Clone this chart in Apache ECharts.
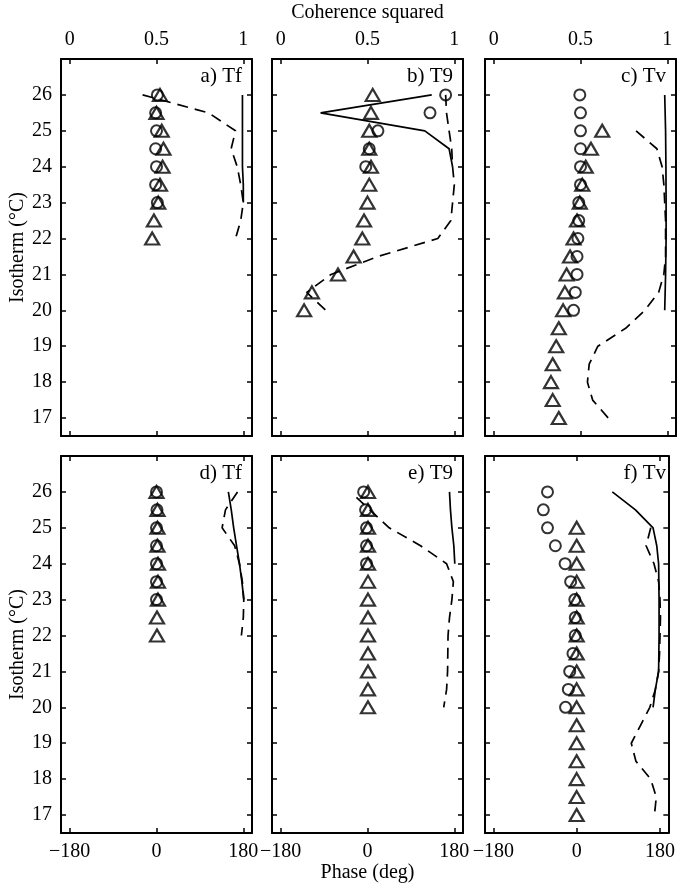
<!DOCTYPE html>
<html lang="en">
<head>
<meta charset="UTF-8">
<script src="https://cdn.jsdelivr.net/npm/echarts@6/dist/echarts.min.js"></script>
<title>Coherence squared and phase by isotherm</title>
<style>
html,body{margin:0;padding:0;background:#fff;}
#chart{width:678px;height:888px;}
</style>
</head>
<body>
<div id="chart"></div>
<script>
// ---- data (isotherm in deg C, coherence squared 0-1, phase in deg) ----
// a) Tf  coherence
var triLevA = [26, 25.5, 25, 24.5, 24, 23.5, 23, 22.5, 22];
var triA    = [0.52, 0.50, 0.53, 0.54, 0.535, 0.52, 0.51, 0.485, 0.475];
var cirLevA = [26, 25.5, 25, 24.5, 24, 23.5, 23];
var cirA    = [0.505, 0.495, 0.50, 0.495, 0.50, 0.495, 0.505];
var solLevA = [26, 25, 24, 23.5, 23];
var solA    = [0.995, 0.995, 0.995, 1.0, 1.0];
var dshLevA = [26, 25.5, 25, 24.5, 24, 23.5, 23, 22.5, 22];
var dshA    = [0.42, 0.80, 0.955, 0.93, 0.965, 0.985, 1.0, 0.985, 0.955];

// b) T9  coherence
var triLevB = [26, 25.5, 25, 24.5, 24, 23.5, 23, 22.5, 22, 21.5, 21, 20.5, 20];
var triB    = [0.53, 0.52, 0.51, 0.51, 0.52, 0.51, 0.50, 0.48, 0.47, 0.42, 0.33, 0.18, 0.135];
var cirLevB = [26, 25.5, 25, 24.5, 24];
var cirB    = [0.95, 0.86, 0.56, 0.51, 0.49];
var solLevB = [26, 25.5, 25, 24.5, 24];
var solB    = [0.87, 0.23, 0.83, 0.97, 0.99];
var dshLevB = [26, 25.5, 25, 24.5, 24, 23.5, 23, 22.5, 22, 21.5, 21, 20.5, 20];
var dshB    = [0.95, 0.955, 0.97, 0.985, 0.99, 1.0, 0.99, 0.98, 0.905, 0.56, 0.29, 0.15, 0.26];

// c) Tv  coherence
var triLevC = [25, 24.5, 24, 23.5, 23, 22.5, 22, 21.5, 21, 20.5, 20, 19.5, 19, 18.5, 18, 17.5, 17];
var triC    = [0.625, 0.56, 0.53, 0.51, 0.496, 0.48, 0.46, 0.44, 0.42, 0.41, 0.40, 0.375, 0.36, 0.34, 0.33, 0.34, 0.375];
var cirLevC = [26, 25.5, 25, 24.5, 24, 23.5, 23, 22.5, 22, 21.5, 21, 20.5, 20];
var cirC    = [0.496, 0.50, 0.50, 0.50, 0.50, 0.50, 0.49, 0.49, 0.485, 0.48, 0.48, 0.47, 0.46];
var solLevC = [26, 25, 24, 23, 22, 21, 20];
var solC    = [0.985, 0.99, 0.992, 0.993, 0.993, 0.99, 0.985];
var dshLevC = [25, 24.5, 24, 23.5, 23, 22.5, 22, 21.5, 21, 20.5, 20, 19.5, 19, 18.5, 18, 17.5, 17];
var dshC    = [0.82, 0.94, 0.97, 0.98, 0.985, 0.99, 0.99, 0.99, 0.98, 0.95, 0.87, 0.76, 0.60, 0.55, 0.54, 0.57, 0.66];

// d) Tf  phase
var triLevD = [26, 25.5, 25, 24.5, 24, 23.5, 23, 22.5, 22];
var triD    = [0, 2, 2, 2, 3, 3, 3, 1, 1];
var cirLevD = [26, 25.5, 25, 24.5, 24, 23.5, 23];
var cirD    = [0, 1, 0, 0, 0, 0, 0];
var solLevD = [26, 25.5, 25, 24.5, 24, 23.5, 23];
var solD    = [149, 155, 160, 166, 172, 177, 181];
var dshLevD = [26, 25.5, 25, 24.5, 24, 23.5, 23, 22.5, 22];
var dshD    = [168, 143, 136, 162, 172, 178, 181, 180, 176];

// e) T9  phase
var triLevE = [26, 25.5, 25, 24.5, 24, 23.5, 23, 22.5, 22, 21.5, 21, 20.5, 20];
var triE    = [1, 1, 1, 1, 1, 1, 1, 1, 1, 1, 1, 1, 1];
var cirLevE = [26, 25.5, 25, 24.5, 24];
var cirE    = [-8, -4, -2, -2, -2];
var solLevE = [26, 25.5, 25, 24.5, 24];
var solE    = [170, 172, 175, 179, 181];
var dshLevE = [25.85, 25, 24.5, 24, 23.5, 23, 22.5, 22, 21, 20.5, 20];
var dshE    = [-23, 45, 110, 164, 178, 175, 170, 167, 166, 164, 158];

// f) Tv  phase
var triLevF = [25, 24.5, 24, 23.5, 23, 22.5, 22, 21.5, 21, 20.5, 20, 19.5, 19, 18.5, 18, 17.5, 17];
var triF    = [0, 0, 0, 0, 0, 0, 0, 0, 0, 0, 0, 0, 0, 0, 0, 0, 0];
var cirLevF = [26, 25.5, 25, 24.5, 24, 23.5, 23, 22.5, 22, 21.5, 21, 20.5, 20];
var cirF    = [-63, -72, -63, -46, -25, -13, -4, -3, -3, -8, -15, -18, -24];
var solLevF = [26, 25.5, 25, 24.5, 24, 23, 22, 21, 20.5, 20];
var solF    = [77, 127, 165, 173, 177, 178, 178, 177, 170, 165];
var dshLevF = [25, 24.5, 24, 23.5, 23, 22.5, 22, 21.5, 21, 20.5, 20, 19.5, 19, 18.5, 18, 17.5, 17];
var dshF    = [160, 150, 167, 177, 180, 181, 180, 179, 177, 170, 158, 138, 118, 128, 160, 172, 168];

var isoTicks   = [17, 18, 19, 20, 21, 22, 23, 24, 25, 26];
var cohTicks   = [0, 0.5, 1];
var phaseTicks = [-180, 0, 180];

// ---- layout ----
var FONT = 'Liberation Serif';
var panels = [
  {label: 'a) Tf', tri: [triA, triLevA], cir: [cirA, cirLevA], sol: [solA, solLevA], dsh: [dshA, dshLevA], left: 61,  top: 59,  row: 0},
  {label: 'b) T9', tri: [triB, triLevB], cir: [cirB, cirLevB], sol: [solB, solLevB], dsh: [dshB, dshLevB], left: 272, top: 59,  row: 0},
  {label: 'c) Tv', tri: [triC, triLevC], cir: [cirC, cirLevC], sol: [solC, solLevC], dsh: [dshC, dshLevC], left: 485, top: 59,  row: 0},
  {label: 'd) Tf', tri: [triD, triLevD], cir: [cirD, cirLevD], sol: [solD, solLevD], dsh: [dshD, dshLevD], left: 61,  top: 456, row: 1},
  {label: 'e) T9', tri: [triE, triLevE], cir: [cirE, cirLevE], sol: [solE, solLevE], dsh: [dshE, dshLevE], left: 272, top: 456, row: 1},
  {label: 'f) Tv', tri: [triF, triLevF], cir: [cirF, cirLevF], sol: [solF, solLevF], dsh: [dshF, dshLevF], left: 485, top: 456, row: 1}
];
var PW = 191, PH = 377;

function pairs(xs, ys) {
  var out = [];
  for (var i = 0; i < xs.length; i++) out.push([xs[i], ys[i]]);
  return out;
}
function fmtPhase(v) { return v < 0 ? '\u2212' + (-v) : String(v); }

var lineStyleAxis = {color: '#000', width: 2};
var grids = [], xAxes = [], yAxes = [], series = [], graphics = [];

panels.forEach(function (p, i) {
  grids.push({left: p.left, top: p.top, width: PW, height: PH, containLabel: false});
  var isPhase = p.row === 1;
  var xmin = isPhase ? -198 : -0.05, xmax = isPhase ? 198 : 1.05;
  var xt = isPhase ? phaseTicks : cohTicks;
  var mainPos = isPhase ? 'bottom' : 'top';
  var otherPos = isPhase ? 'top' : 'bottom';
  var col = i % 3;

  var mainX = {
    type: 'value', gridIndex: i, position: mainPos, min: xmin, max: xmax,
    axisLine: {show: true, onZero: false, lineStyle: lineStyleAxis},
    axisTick: {show: true, inside: true, length: 5, customValues: xt, lineStyle: {color: '#000', width: 1.5}},
    axisLabel: {show: true, customValues: xt, margin: 9, color: '#000', fontFamily: FONT, fontSize: 20,
      formatter: isPhase ? fmtPhase : null},
    splitLine: {show: false}
  };
  if (col === 1) {
    mainX.name = isPhase ? 'Phase (deg)' : 'Coherence squared';
    mainX.nameLocation = 'middle';
    mainX.nameGap = isPhase ? 30 : 36;
    mainX.nameTextStyle = {color: '#000', fontFamily: FONT, fontSize: 20};
  }
  xAxes.push(mainX);
  xAxes.push({
    type: 'value', gridIndex: i, position: otherPos, min: xmin, max: xmax,
    axisLine: {show: true, onZero: false, lineStyle: lineStyleAxis},
    axisTick: {show: true, inside: true, length: 5, customValues: xt, lineStyle: {color: '#000', width: 1.5}},
    axisLabel: {show: false}, splitLine: {show: false}
  });

  var leftY = {
    type: 'value', gridIndex: i, position: 'left', min: 16.5, max: 27,
    axisLine: {show: true, onZero: false, lineStyle: lineStyleAxis},
    axisTick: {show: true, inside: true, length: 5, customValues: isoTicks, lineStyle: {color: '#000', width: 1.5}},
    axisLabel: {show: col === 0, customValues: isoTicks, margin: 9, color: '#000', fontFamily: FONT, fontSize: 20},
    splitLine: {show: false}
  };
  if (col === 0) {
    leftY.name = 'Isotherm (\u00B0C)';
    leftY.nameLocation = 'middle';
    leftY.nameGap = 32;
    leftY.nameTextStyle = {color: '#000', fontFamily: FONT, fontSize: 20};
  }
  yAxes.push(leftY);
  yAxes.push({
    type: 'value', gridIndex: i, position: 'right', min: 16.5, max: 27,
    axisLine: {show: true, onZero: false, lineStyle: lineStyleAxis},
    axisTick: {show: true, inside: true, length: 5, customValues: isoTicks, lineStyle: {color: '#000', width: 1.5}},
    axisLabel: {show: false}, splitLine: {show: false}
  });

  var xi = 2 * i, yi = 2 * i;
  series.push({
    type: 'line', xAxisIndex: xi, yAxisIndex: yi, data: pairs(p.dsh[0], p.dsh[1]),
    symbol: 'none', lineStyle: {color: '#000', width: 1.7, type: [11, 7]}, silent: true, z: 2
  });
  series.push({
    type: 'line', xAxisIndex: xi, yAxisIndex: yi, data: pairs(p.sol[0], p.sol[1]),
    symbol: 'none', lineStyle: {color: '#000', width: 1.7}, silent: true, z: 2
  });
  series.push({
    type: 'scatter', xAxisIndex: xi, yAxisIndex: yi, data: pairs(p.cir[0], p.cir[1]),
    symbol: 'circle', symbolSize: 11,
    itemStyle: {color: 'rgba(0,0,0,0)', borderColor: '#000', borderWidth: 2}, silent: true, z: 3
  });
  series.push({
    type: 'scatter', xAxisIndex: xi, yAxisIndex: yi, data: pairs(p.tri[0], p.tri[1]),
    symbol: 'triangle', symbolSize: [14, 12],
    itemStyle: {color: 'rgba(0,0,0,0)', borderColor: '#000', borderWidth: 2.2}, silent: true, z: 3
  });

  graphics.push({
    type: 'text', right: 678 - (p.left + PW) + 10, top: p.top + 7,
    style: {text: p.label, fill: '#000', font: '21px "Liberation Serif"'}
  });
});

var chart = echarts.init(document.getElementById('chart'));
chart.setOption({
  backgroundColor: '#fff',
  animation: false,
  grid: grids,
  xAxis: xAxes,
  yAxis: yAxes,
  series: series,
  graphic: graphics
});
</script>
</body>
</html>
